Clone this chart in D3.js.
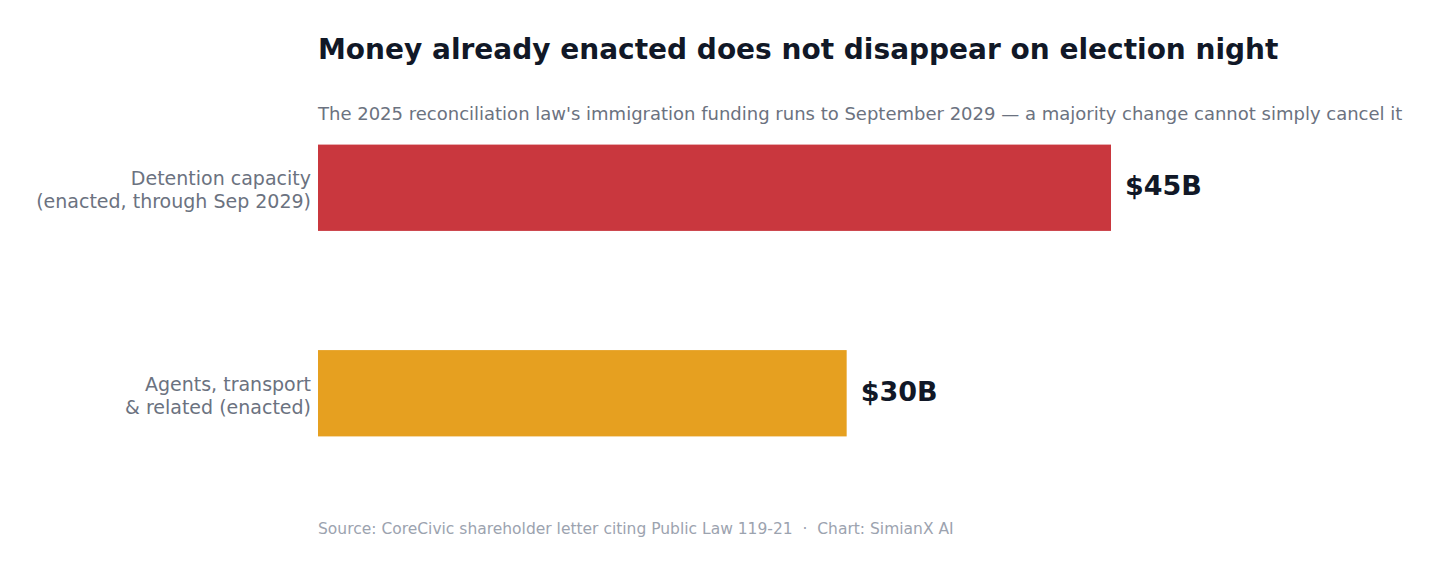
<!DOCTYPE html>
<html>
<head>
<meta charset="utf-8">
<script src="https://cdn.jsdelivr.net/npm/d3@7"></script>
<style>
  body { margin: 0; background: #fff; }
  svg { display: block; font-family: "DejaVu Sans", sans-serif; }
</style>
</head>
<body>
<svg id="chart" width="1440" height="573"></svg>
<script>
// chart data
var categories = ["Detention capacity\n(enacted, through Sep 2029)", "Agents, transport\n& related (enacted)"];
var values = [45, 30];
var valueLabels = ["$45B", "$30B"];
var barColors = ["#c9373e", "#e6a020"];

var svg = d3.select("#chart");

var x = d3.scaleLinear().domain([0, 45]).range([318, 1111]);
var y = d3.scaleBand().domain(categories).range([85, 496]).paddingInner(0.58).paddingOuter(0.29);

svg.append("text")
  .attr("x", 318).attr("y", 59)
  .attr("font-size", 28).attr("font-weight", "bold").attr("fill", "#111827")
  .text("Money already enacted does not disappear on election night");

svg.append("text")
  .attr("x", 318).attr("y", 120)
  .attr("font-size", 18).attr("fill", "#6b7280")
  .text("The 2025 reconciliation law's immigration funding runs to September 2029 \u2014 a majority change cannot simply cancel it");

svg.selectAll("rect.bar")
  .data(categories)
  .enter()
  .append("rect")
  .attr("class", "bar")
  .attr("x", x(0))
  .attr("y", function(d) { return y(d); })
  .attr("width", function(d, i) { return x(values[i]) - x(0); })
  .attr("height", y.bandwidth())
  .attr("fill", function(d, i) { return barColors[i]; });

svg.selectAll("text.val")
  .data(categories)
  .enter()
  .append("text")
  .attr("class", "val")
  .attr("x", function(d, i) { return x(values[i]) + 14; })
  .attr("y", function(d) { return y(d) + y.bandwidth() / 2; })
  .attr("dy", "0.28em")
  .attr("font-size", 27).attr("font-weight", "bold").attr("fill", "#111827")
  .text(function(d, i) { return valueLabels[i]; });

// category labels, two lines each
var labels = svg.selectAll("text.cat")
  .data(categories)
  .enter()
  .append("text")
  .attr("class", "cat")
  .attr("text-anchor", "end")
  .attr("font-size", 19).attr("fill", "#6b7280")
  .attr("y", function(d) { return y(d) + y.bandwidth() / 2; });

labels.each(function(d) {
  var lines = d.split("\n");
  var t = d3.select(this);
  lines.forEach(function(l, j) {
    t.append("tspan")
      .attr("x", 311)
      .attr("dy", j == 0 ? "-0.12em" : "1.2em")
      .text(l);
  });
});

svg.append("text")
  .attr("x", 318).attr("y", 534)
  .attr("font-size", 15.5).attr("fill", "#9ca3af")
  .text("Source: CoreCivic shareholder letter citing Public Law 119-21  \u00b7  Chart: SimianX AI")
  .style("white-space", "pre");
</script>
</body>
</html>
